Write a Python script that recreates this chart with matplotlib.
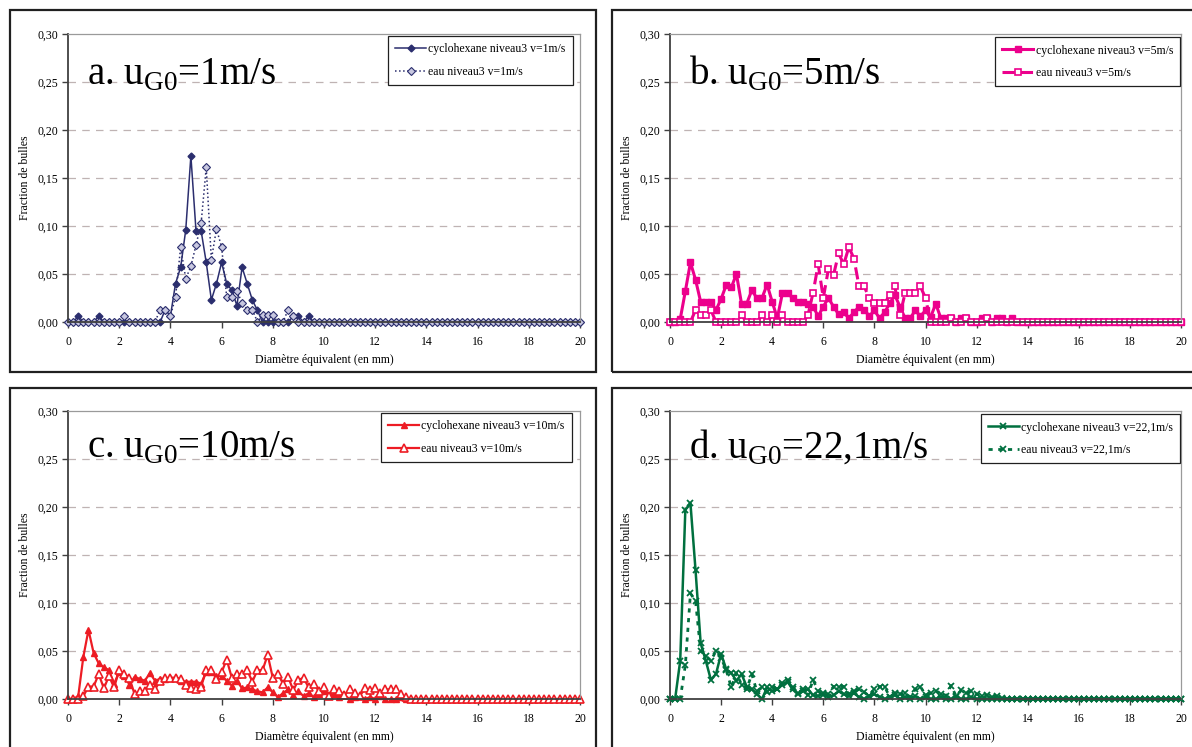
import numpy as np
import matplotlib
matplotlib.use("Agg")
import matplotlib.pyplot as plt
from matplotlib.patches import Rectangle

plt.rcParams['font.family'] = ['Liberation Serif', 'DejaVu Serif']
plt.rcParams['mathtext.fontset'] = 'custom'
plt.rcParams['mathtext.rm'] = 'Liberation Serif'

# diametre (mm), pas de 0,2 mm
diam = [round(0.2 * i, 1) for i in range(101)]

# a. uG0 = 1 m/s
a_cyc = [0, 0, 0.006, 0, 0, 0, 0.006, 0, 0, 0,
         0, 0, 0, 0, 0, 0, 0, 0, 0, 0.013,
         0.006, 0.040, 0.057, 0.096, 0.173, 0.095, 0.095, 0.062, 0.023, 0.040,
         0.062, 0.040, 0.033, 0.017, 0.057, 0.040, 0.023, 0.012, 0, 0,
         0, 0, 0, 0, 0.006, 0.006, 0, 0.006, 0, 0] + [0] * 51
a_eau = [0, 0, 0, 0, 0, 0, 0, 0, 0, 0,
         0, 0.006, 0, 0, 0, 0, 0, 0, 0.013, 0.013,
         0.006, 0.026, 0.078, 0.045, 0.058, 0.080, 0.103, 0.161, 0.065, 0.097,
         0.078, 0.026, 0.026, 0.032, 0.020, 0.013, 0.013, 0, 0.007, 0.007,
         0.007, 0, 0, 0.013, 0.006, 0, 0, 0, 0, 0] + [0] * 51

# b. uG0 = 5 m/s
b_cyc = [0, 0, 0.003, 0.032, 0.062, 0.044, 0.021, 0.021, 0.021, 0.0125,
         0.024, 0.0385, 0.036, 0.050, 0.019, 0.019, 0.033, 0.025, 0.025, 0.039,
         0.021, 0.004, 0.030, 0.030, 0.025, 0.021, 0.021, 0.019, 0.016, 0.006,
         0.016, 0.025, 0.016, 0.008, 0.010, 0.004, 0.010, 0.016, 0.013, 0.006,
         0.012, 0.004, 0.010, 0.0195, 0.028, 0.016, 0.004, 0.004, 0.012, 0.006,
         0.012, 0.005, 0.019, 0.004, 0.004, 0.004, 0, 0.004, 0.004, 0,
         0, 0.004, 0.004, 0, 0.004, 0.004, 0, 0.004, 0, 0] + [0] * 31
b_eau = [0, 0, 0, 0, 0, 0.0125, 0.007, 0.007, 0.0125, 0,
         0, 0, 0, 0, 0.007, 0, 0, 0, 0.007, 0,
         0.007, 0, 0.007, 0, 0, 0, 0, 0.007, 0.0305, 0.060,
         0.025, 0.055, 0.049, 0.0715, 0.060, 0.078, 0.066, 0.037, 0.037, 0.025,
         0.0195, 0.0195, 0.0195, 0.028, 0.037, 0.007, 0.030, 0.030, 0.030, 0.037,
         0.025, 0, 0, 0, 0, 0.004, 0, 0, 0.004, 0,
         0, 0, 0.004, 0, 0, 0, 0, 0, 0, 0] + [0] * 31

# c. uG0 = 10 m/s
c_cyc = [0, 0, 0.003, 0.044, 0.072, 0.048, 0.037, 0.033, 0.030, 0.016,
         0.028, 0.024, 0.015, 0.023, 0.021, 0.019, 0.027, 0.019, 0.021, 0.021,
         0.022, 0.022, 0.019, 0.018, 0.018, 0.018, 0.016, 0.028, 0.028, 0.024,
         0.024, 0.019, 0.014, 0.019, 0.011, 0.012, 0.010, 0.008, 0.007, 0.012,
         0.007, 0.002, 0.006, 0.010, 0.004, 0.008, 0.003, 0.006, 0.002, 0.005,
         0.008, 0.003, 0.005, 0.002, 0.004, 0, 0.002, 0.003, 0, 0.002,
         0, 0.003, 0, 0, 0, 0.002, 0, 0, 0, 0] + [0] * 31
c_eau = [0, 0, 0, 0.003, 0.013, 0.013, 0.026, 0.011, 0.024, 0.012,
         0.030, 0.026, 0.022, 0.005, 0.008, 0.008, 0.015, 0.010, 0.019, 0.022,
         0.022, 0.022, 0.021, 0.015, 0.011, 0.010, 0.013, 0.030, 0.030, 0.021,
         0.028, 0.041, 0.022, 0.026, 0.026, 0.030, 0.018, 0.030, 0.030, 0.046,
         0.022, 0.026, 0.016, 0.023, 0.009, 0.020, 0.022, 0.012, 0.016, 0.008,
         0.012, 0.003, 0.010, 0.008, 0.004, 0.010, 0.006, 0.003, 0.011, 0.009,
         0.011, 0.006, 0.010, 0.010, 0.010, 0.005, 0.002, 0, 0, 0] + [0] * 31

# d. uG0 = 22,1 m/s
d_cyc = [0, 0, 0.040, 0.197, 0.204, 0.134, 0.058, 0.040, 0.020, 0.026,
         0.047, 0.031, 0.027, 0.019, 0.026, 0.013, 0.010, 0.005, 0, 0.012,
         0.008, 0.010, 0.015, 0.018, 0.010, 0.005, 0.008, 0.010, 0.004, 0.003,
         0.006, 0.002, 0.004, 0.008, 0.005, 0.003, 0.006, 0.002, 0, 0.003,
         0.005, 0.002, 0, 0.002, 0.004, 0, 0.002, 0, 0.003, 0,
         0.002, 0, 0, 0.002, 0, 0, 0.002, 0, 0, 0.002] + [0] * 41
d_eau = [0, 0, 0, 0.035, 0.110, 0.102, 0.050, 0.045, 0.040, 0.050,
         0.043, 0.030, 0.012, 0.027, 0.015, 0.010, 0.026, 0.008, 0.012, 0.007,
         0.012, 0.010, 0.017, 0.020, 0.012, 0.006, 0.010, 0.004, 0.020, 0.008,
         0.004, 0.005, 0.013, 0.013, 0.013, 0.005, 0.008, 0.010, 0.007, 0.003,
         0.010, 0.013, 0.013, 0.002, 0.006, 0.005, 0.006, 0.002, 0.010, 0.013,
         0.004, 0.006, 0.008, 0.005, 0.003, 0.014, 0.003, 0.009, 0.006, 0.008,
         0.005, 0.003, 0.004, 0.002, 0.003, 0.001, 0, 0, 0, 0] + [0] * 31

W, H = 1192, 747


def fig_rect(x0, y0, x1, y1):
    # pixel box (top-left origin) -> figure fraction
    return [x0 / W, 1 - y1 / H, (x1 - x0) / W, (y1 - y0) / H]


def setup_axes(ax):
    ax.set_xlim(0, 20)
    ax.set_ylim(0, 0.30)
    ax.set_xticks(range(0, 21, 2))
    yt = np.arange(0, 0.301, 0.05)
    ax.set_yticks(yt)
    ax.set_yticklabels([('%.2f' % v).replace('.', ',') for v in yt])
    for v in yt[1:-1]:
        ax.axhline(v, color='#BFB3B3', lw=0.9, ls=(0, (6, 5)), zorder=0)
    for s in ['left', 'bottom']:
        ax.spines[s].set_color('#404040')
        ax.spines[s].set_linewidth(1.3)
    for s in ['top', 'right']:
        ax.spines[s].set_color('#9A9A9A')
        ax.spines[s].set_linewidth(0.9)
    ax.tick_params(direction='out', length=4, width=1, color='#404040',
                   labelsize=8.5, pad=3)
    ax.tick_params(axis='x', pad=6)
    ax.set_ylabel('Fraction de bulles', fontsize=8.5)
    ax.yaxis.set_label_coords(-0.072, 0.5)
    ax.set_xlabel('Diamètre équivalent (en mm)', fontsize=8.5)
    ax.xaxis.set_label_coords(0.5, -0.112)


def main():
    fig = plt.figure(figsize=(W / 100, H / 100), dpi=100)

    # cadres des quatre graphiques
    for x0, y0, x1, y1 in [(10, 10, 596, 372), (612, 10, 1200, 372),
                           (10, 388, 596, 760), (612, 388, 1200, 760)]:
        fig.add_artist(Rectangle((x0 / W, 1 - y1 / H), (x1 - x0) / W, (y1 - y0) / H,
                                 transform=fig.transFigure, fill=False,
                                 ec='#202020', lw=1.6))

    ax_a = fig.add_axes(fig_rect(68, 34, 580, 322))
    ax_b = fig.add_axes(fig_rect(670, 34, 1181, 322))
    ax_c = fig.add_axes(fig_rect(68, 411, 580, 699))
    ax_d = fig.add_axes(fig_rect(670, 411, 1181, 699))

    navy = '#2B2E6E'
    pink = '#EC008C'
    red = '#ED1C24'
    green = '#00703F'

    # a
    ax_a.plot(diam, a_cyc, '-', color=navy, lw=1.1, marker='D', ms=3.5,
              mfc=navy, mec=navy, clip_on=False, label='cyclohexane niveau3 v=1m/s')
    ax_a.plot(diam, a_eau, ':', color=navy, lw=1.1, marker='D', ms=3.8,
              mfc='#C8C8E0', mec=navy, mew=0.8, clip_on=False, label='eau niveau3 v=1m/s')
    # b
    ax_b.plot(diam, b_cyc, '-', color=pink, lw=2.2, marker='s', ms=4,
              mfc=pink, mec=pink, clip_on=False, label='cyclohexane niveau3 v=5m/s')
    ax_b.plot(diam, b_eau, color=pink, lw=2.2, ls=(0, (4, 2)), marker='s', ms=4.5,
              mfc='white', mec=pink, mew=1.2, clip_on=False, label='eau niveau3 v=5m/s')
    # c
    ax_c.plot(diam, c_cyc, '-', color=red, lw=1.6, marker='^', ms=4.5,
              mfc=red, mec=red, clip_on=False, label='cyclohexane niveau3 v=10m/s')
    ax_c.plot(diam, c_eau, '-', color=red, lw=1.6, marker='^', ms=6,
              mfc='white', mec=red, mew=1.2, clip_on=False, label='eau niveau3 v=10m/s')
    # d
    ax_d.plot(diam, d_cyc, '-', color=green, lw=1.8, marker='x', ms=5,
              mew=1.3, mec=green, clip_on=False, label='cyclohexane niveau3 v=22,1m/s')
    ax_d.plot(diam, d_eau, color=green, lw=2, ls=(0, (1.5, 2)), marker='x', ms=5,
              mew=1.3, mec=green, clip_on=False, label='eau niveau3 v=22,1m/s')

    titles = [r'a. u$_{\mathrm{G0}}$=1m/s', r'b. u$_{\mathrm{G0}}$=5m/s',
              r'c. u$_{\mathrm{G0}}$=10m/s', r'd. u$_{\mathrm{G0}}$=22,1m/s']
    title_y = [0.825, 0.825, 0.838, 0.838]
    legend_pos = [(0.986, 0.992), (0.998, 0.988), (0.984, 0.992), (0.998, 0.988)]
    for ax, t, ty, lp in zip([ax_a, ax_b, ax_c, ax_d], titles, title_y, legend_pos):
        setup_axes(ax)
        ax.text(0.037, ty, t, transform=ax.transAxes, fontsize=28,
                va='baseline', ha='left')
        leg = ax.legend(loc='upper right', bbox_to_anchor=lp, fontsize=8.5,
                        fancybox=False, framealpha=1, edgecolor='#202020',
                        handlelength=2.6, handletextpad=0.2, labelspacing=0.9,
                        borderpad=0.6, borderaxespad=0)
        leg.get_frame().set_linewidth(0.9)

    fig.savefig('out.png', dpi=100)


main()
